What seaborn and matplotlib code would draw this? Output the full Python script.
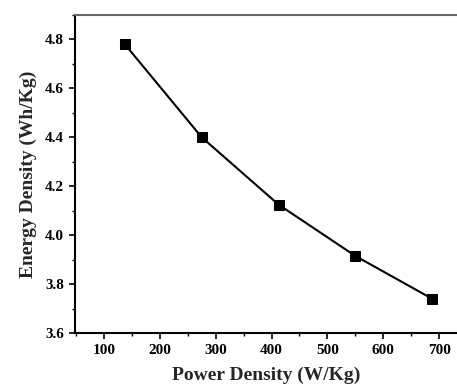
import matplotlib
matplotlib.use("Agg")
import matplotlib.pyplot as plt
from matplotlib.ticker import MultipleLocator
import seaborn as sns
import pandas as pd

power_density = [137.5, 275, 412.5, 550, 687.5]
energy_density = [4.78, 4.40, 4.125, 3.915, 3.74]
x_ticks = [100, 200, 300, 400, 500, 600, 700]
y_ticks = [3.6, 3.8, 4.0, 4.2, 4.4, 4.6, 4.8]

sns.set_theme(style="ticks")
plt.rcParams["font.family"] = ["Liberation Serif", "DejaVu Serif"]
plt.rcParams["font.weight"] = "bold"

df = pd.DataFrame({"Power Density (W/Kg)": power_density,
                   "Energy Density (Wh/Kg)": energy_density})

fig = plt.figure(figsize=(4.57, 3.92), dpi=100)
ax = fig.add_axes([0.164, 0.1505, 0.836, 0.8112])
sns.lineplot(data=df, x="Power Density (W/Kg)", y="Energy Density (Wh/Kg)",
             marker="s", markersize=7, color="black", linewidth=1.5,
             markeredgecolor="black", ax=ax)

ax.set_xlim(48, 732)
ax.set_ylim(3.6, 4.9)
ax.set_xticks(x_ticks)
ax.set_yticks(y_ticks)
ax.set_xticklabels([str(t) for t in x_ticks], fontsize=11, fontweight="bold")
ax.set_yticklabels([f"{t:.1f}" for t in y_ticks], fontsize=11, fontweight="bold")
ax.xaxis.set_minor_locator(MultipleLocator(50))
ax.yaxis.set_minor_locator(MultipleLocator(0.1))
ax.tick_params(which="major", direction="out", length=4, width=1.2, colors="black", pad=4)
ax.tick_params(which="minor", direction="out", length=2.5, width=1.0, colors="black")
ax.set_xlabel("Power Density (W/Kg)", fontsize=14, fontweight="bold", labelpad=7)
ax.set_ylabel("Energy Density (Wh/Kg)", fontsize=14, fontweight="bold", labelpad=6)

ax.spines["right"].set_visible(False)
ax.spines["top"].set_color("#666666")
ax.spines["top"].set_linewidth(1.5)
for s in ["left", "bottom"]:
    ax.spines[s].set_color("black")
    ax.spines[s].set_linewidth(1.5)

fig.savefig("out.png", dpi=100)
